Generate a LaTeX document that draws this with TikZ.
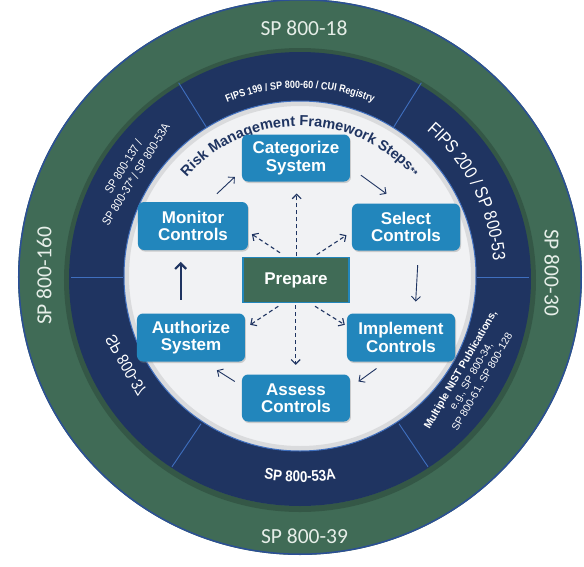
\documentclass[tikz,border=0pt]{standalone}
\usepackage{fontspec}
\setmainfont{Liberation Sans}
\newfontfamily\calibfont{Carlito}
\newfontfamily\narrowfont[FakeStretch=0.86]{Liberation Sans}
\usetikzlibrary{arrows.meta,decorations.text,shadows}
\definecolor{ringgreen}{HTML}{406B56}
\definecolor{navyring}{HTML}{1F3461}
\definecolor{innerbg}{HTML}{F1F2F4}
\definecolor{boxblue}{HTML}{2286BC}
\definecolor{divblue}{HTML}{3F6FBF}
\definecolor{edgeblue}{HTML}{2B4F96}
\definecolor{outertext}{HTML}{E6EEE8}
\definecolor{arrowcol}{HTML}{1F3461}
\begin{document}
\begin{tikzpicture}[x=1pt,y=1pt,
  stepbox/.style={fill=boxblue, rounded corners=6pt, minimum width=108pt,
    minimum height=47pt, inner sep=0pt, text=white, align=center,
    font=\bfseries\fontsize{17}{17.5}\selectfont,
    drop shadow={shadow xshift=1pt, shadow yshift=-1.5pt, opacity=0.35}},
  flow/.style={draw=arrowcol, line width=0.9pt, -{Straight Barb[length=4.5pt,width=9pt]}},
  dflow/.style={flow, line width=1.1pt, dash pattern=on 4pt off 3pt},
  outerlabel/.style={font=\calibfont\fontsize{21.5}{21.5}\selectfont, text=outertext, inner sep=0pt},
  ringlabel/.style={text=white, inner sep=0pt, align=center},
]
\useasboundingbox (-300,-289) rectangle (284,277);
% outer green ring
\fill[ringgreen] (0,0) ellipse [x radius=282, y radius=278];
\draw[edgeblue, line width=1.5pt] (0,0) ellipse [x radius=281.2, y radius=277.2];
\draw[black, opacity=0.18, line width=6pt] (0,-3) ellipse [x radius=233, y radius=229];
% navy ring
\fill[navyring] (0,-2) ellipse [x radius=231, y radius=227];
% inner disc
\fill[innerbg] (0,1) ellipse [x radius=176, y radius=175];
\draw[black!40, opacity=0.25, line width=5pt] (0,1) ellipse [x radius=173.5, y radius=172.5];
\draw[divblue, line width=1pt] (0,1) ellipse [x radius=176, y radius=175];
\foreach \a in {0,58,122,180,236,304}
  \draw[divblue, line width=0.9pt] (\a:177) -- (\a:229);

% outer ring labels
\node[outerlabel] (t18) at (4,249) {SP 800-18};
\node[outerlabel] (t39) at (4.5,-259) {SP 800-39};
\node[outerlabel, rotate=90] (t160) at (-256,1) {SP 800-160};
\node[outerlabel, rotate=-90] (t30) at (252,4.5) {SP 800-30};

% navy ring labels
\path[decorate, decoration={text along path, text align=center, text color=white,
  text={|\narrowfont\bfseries\fontsize{10.5}{11}\selectfont|FIPS 199 / SP 800-60 / CUI Registry}}]
  (128:189) arc[start angle=128, end angle=52, radius=189];
\path[decorate, decoration={text along path, text align=center, text color=white,
  text={|\narrowfont\fontsize{18}{18}\selectfont|FIPS 200 / SP 800-53}}]
  (62:194) arc[start angle=62, end angle=-8, radius=194];
\path[decorate, decoration={text along path, text align=center, text color=white,
  text={|\narrowfont\bfseries\fontsize{15.5}{16}\selectfont|SP 800-53A}}]
  (245:205) arc[start angle=245, end angle=295, radius=205];
\node[ringlabel, font=\narrowfont\fontsize{12}{14.5}\selectfont, rotate=58] (ul) at (148:201)
  {SP 800-137 /\\SP 800-37* / SP 800-53A};
\node[ringlabel, font=\fontsize{10.5}{12.5}\selectfont, rotate=60] (lr) at (-30:198)
  {\textbf{Multiple NIST Publications,}\\e.g., SP 800-34,\\SP 800-61, SP 800-128};
\node[ringlabel, font=\narrowfont\fontsize{16.5}{16.5}\selectfont, rotate=-60, yscale=-1] (ll) at (207:195)
  {SP 800-37};

% title arc
\path[decorate, decoration={text along path, text align=center, text color=navyring,
  text={|\bfseries\fontsize{14.5}{14.5}\selectfont|Risk Management Framework Steps|\bfseries\fontsize{10}{10}\selectfont|**}}]
  (140:151) arc[start angle=140, end angle=40, radius=151];

% step boxes
\node[stepbox] (cat) at (-4,119) {Categorize\\System};
\node[stepbox] (sel) at (106,50) {Select\\Controls};
\node[stepbox, minimum width=110pt, minimum height=48pt] (mon) at (-107,51) {Monitor\\Controls};
\node[stepbox, minimum height=48pt] (auth) at (-109,-60.5) {Authorize\\System};
\node[stepbox, minimum height=48pt] (impl) at (101,-60.5) {Implement\\Controls};
\node[stepbox] (ass) at (-4,-121) {Assess\\Controls};
\node[fill=ringgreen, draw=boxblue, line width=1.5pt, minimum width=106pt, minimum height=45pt,
  inner sep=0pt, text=white, font=\bfseries\fontsize{17}{17}\selectfont] (prep) at (-4,-3) {Prepare};

% cycle arrows
\draw[flow] ([shift={(10.7,6.5)}]cat.south east) -- ([shift={(34.7,9.5)}]sel.north west);
\draw[flow] ([shift={(11.7,-14.5)}]sel.south) -- ([shift={(14.7,11.8)}]impl.north);
\draw[flow] ([shift={(29.7,-6.8)}]impl.south west) -- ([shift={(8.3,-7.2)}]ass.north east);
\draw[flow] ([shift={(-7,-7.2)}]ass.north west) -- ([shift={(-28.3,-8.5)}]auth.south east);
\draw[draw=arrowcol, line width=2.2pt, -{Straight Barb[length=5.5pt,width=11pt]}]
  ([shift={(-10.3,13.5)}]auth.north) -- ([shift={(-12.3,-11.7)}]mon.south);
\draw[flow] ([shift={(-31.3,8)}]mon.north east) -- ([shift={(-7,4.8)}]cat.south west);

% prepare arrows
\draw[dflow] ([shift={(0.7,0.3)}]prep.north) -- ([shift={(0.7,-11.8)}]cat.south);
\draw[dflow] ([shift={(-16,4)}]prep.north) -- ([shift={(3.7,16)}]mon.south east);
\draw[dflow] ([shift={(20.7,2)}]prep.north) -- ([shift={(-5.3,15.5)}]sel.south west);
\draw[dflow] ([shift={(-0.3,-2)}]prep.south) -- ([shift={(-0.3,9.5)}]ass.north);
\draw[dflow] ([shift={(-17.7,-3)}]prep.south) -- ([shift={(5,-11.5)}]auth.north east);
\draw[dflow] ([shift={(19,-3)}]prep.south) -- ([shift={(-2,-11.5)}]impl.north west);
\end{tikzpicture}
\end{document}
